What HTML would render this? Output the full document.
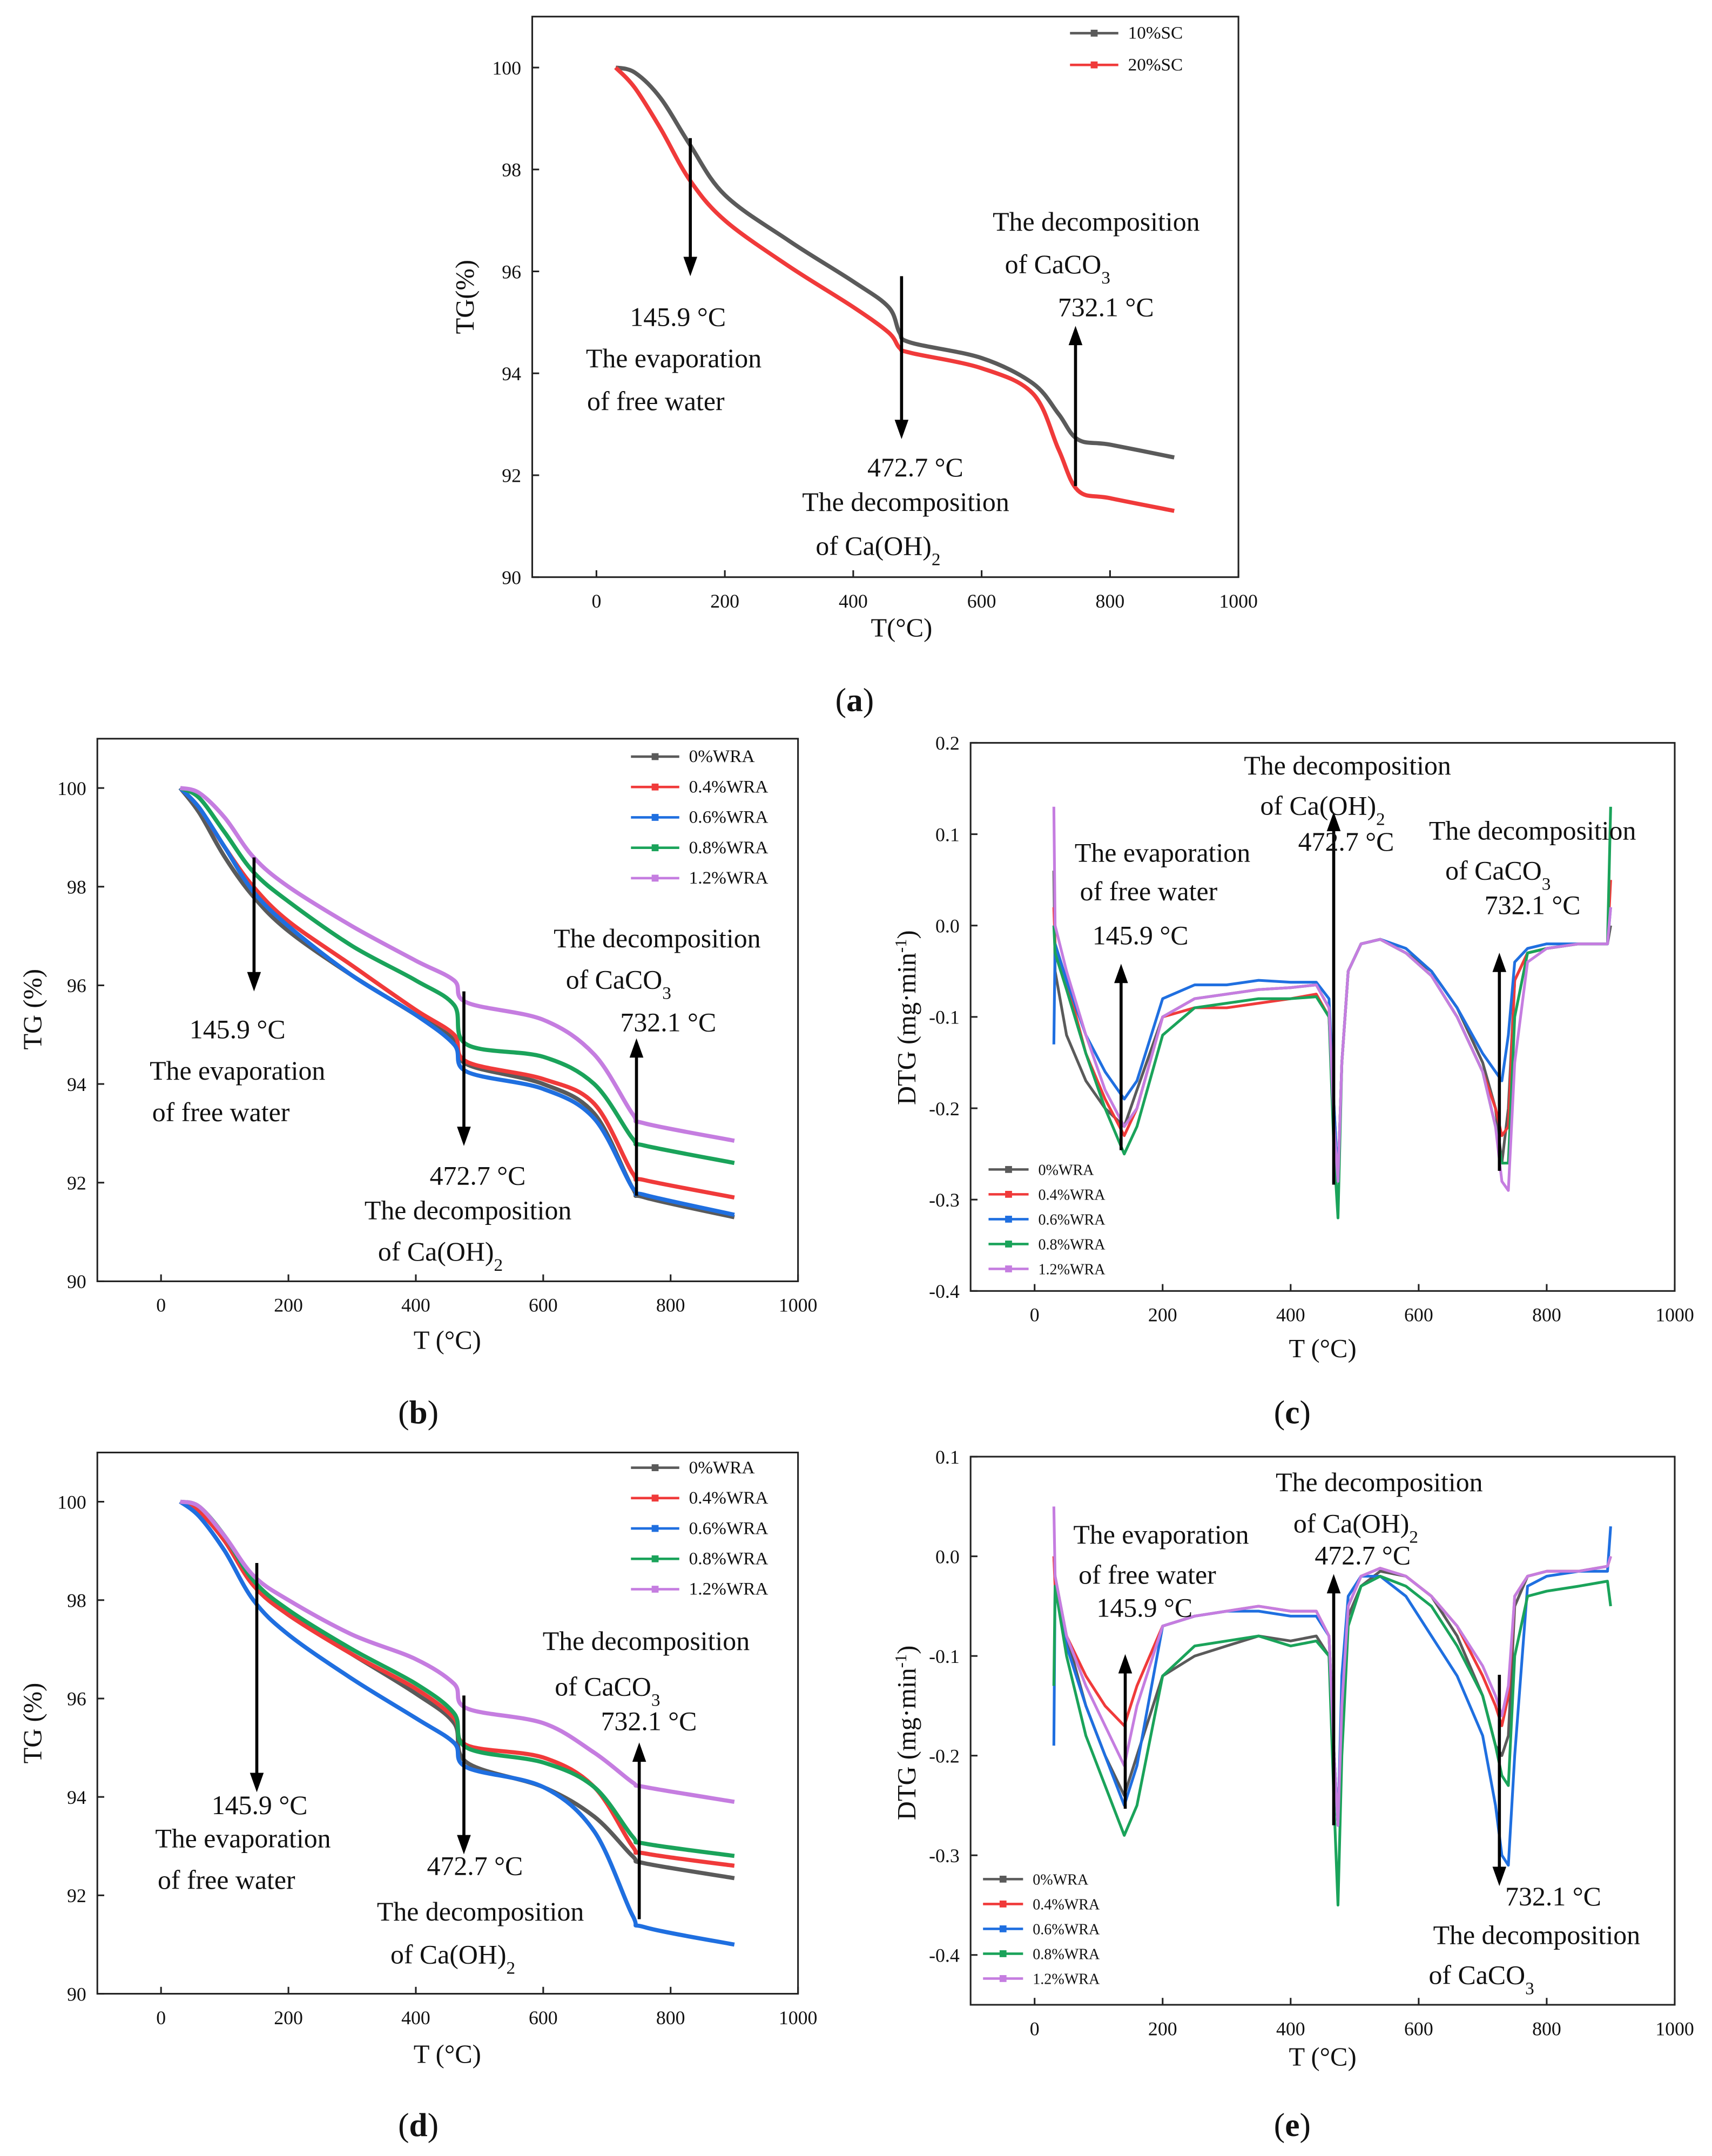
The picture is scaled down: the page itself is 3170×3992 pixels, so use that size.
<!DOCTYPE html>
<html><head><meta charset="utf-8"><style>
html,body{margin:0;padding:0;background:#fff}
svg{display:block}
text{font-family:"Liberation Serif",serif;fill:#111}
</style></head><body>
<svg id="fig" width="3170" height="3992" viewBox="0 0 1240 1561.5" xmlns="http://www.w3.org/2000/svg"></svg>
<script>
const colors = ['#5a5a5a','#f03a3a','#1f6fe0','#1aa35a','#c57de0'];
const legendWRA = ['0%WRA','0.4%WRA','0.6%WRA','0.8%WRA','1.2%WRA'];
const legendSC = ['10%SC','20%SC'];
const xTicks = [0,200,400,600,800,1000];
const tgTicks = [90,92,94,96,98,100];
const dtgTicksC = [-0.4,-0.3,-0.2,-0.1,0.0,0.1,0.2];
const dtgTicksE = [-0.4,-0.3,-0.2,-0.1,0.0,0.1];

const tA = [30,60,100,145,200,300,400,455,472,490,600,680,720,750,800,900];
const a10 = [100,99.9,99.4,98.5,97.5,96.6,95.8,95.3,94.8,94.6,94.3,93.8,93.2,92.7,92.6,92.35];
const a20 = [100,99.6,98.8,97.8,97.0,96.1,95.3,94.8,94.5,94.4,94.1,93.6,92.5,91.7,91.55,91.3];

const tB = [30,60,100,145,200,300,400,460,480,600,680,740,760,900];
const b0 = [100,99.5,98.6,97.8,97.1,96.2,95.4,94.9,94.4,94.0,93.4,91.9,91.7,91.3];
const b4 = [100,99.6,98.8,98.0,97.3,96.4,95.5,95.0,94.45,94.1,93.6,92.2,92.05,91.7];
const b6 = [100,99.6,98.8,97.9,97.2,96.2,95.4,94.8,94.25,93.9,93.3,91.9,91.75,91.35];
const b8 = [100,99.8,99.1,98.3,97.7,96.8,96.1,95.6,94.8,94.55,94.0,92.9,92.75,92.4];
const b12 = [100,99.9,99.4,98.6,98.0,97.2,96.5,96.1,95.65,95.3,94.6,93.4,93.2,92.85];

const tC = [30,32,50,80,110,140,160,200,250,300,350,400,440,460,468,474,480,490,510,540,580,620,660,700,720,730,740,750,770,800,850,895,900];
const c0 = [0.06,-0.05,-0.12,-0.17,-0.2,-0.22,-0.18,-0.1,-0.08,-0.075,-0.07,-0.068,-0.065,-0.09,-0.2,-0.28,-0.15,-0.05,-0.02,-0.015,-0.03,-0.05,-0.09,-0.15,-0.2,-0.26,-0.2,-0.06,-0.03,-0.025,-0.02,-0.02,0.0];
const c4 = [0.02,-0.02,-0.06,-0.14,-0.19,-0.23,-0.2,-0.1,-0.09,-0.09,-0.085,-0.08,-0.075,-0.1,-0.22,-0.28,-0.15,-0.05,-0.02,-0.015,-0.03,-0.055,-0.1,-0.16,-0.2,-0.23,-0.22,-0.06,-0.03,-0.025,-0.02,-0.02,0.05];
const c6 = [-0.13,-0.02,-0.06,-0.12,-0.16,-0.19,-0.17,-0.08,-0.065,-0.065,-0.06,-0.062,-0.062,-0.08,-0.2,-0.28,-0.15,-0.05,-0.02,-0.015,-0.025,-0.05,-0.09,-0.14,-0.16,-0.17,-0.12,-0.04,-0.025,-0.02,-0.02,-0.02,0.02];
const c8 = [0.0,-0.03,-0.07,-0.14,-0.2,-0.25,-0.22,-0.12,-0.09,-0.085,-0.08,-0.08,-0.078,-0.1,-0.25,-0.32,-0.15,-0.05,-0.02,-0.015,-0.03,-0.055,-0.1,-0.16,-0.22,-0.26,-0.26,-0.1,-0.03,-0.025,-0.02,-0.02,0.13];
const c12 = [0.13,0.0,-0.05,-0.12,-0.18,-0.22,-0.2,-0.1,-0.08,-0.075,-0.07,-0.068,-0.065,-0.09,-0.22,-0.28,-0.15,-0.05,-0.02,-0.015,-0.03,-0.055,-0.1,-0.16,-0.22,-0.28,-0.29,-0.15,-0.04,-0.025,-0.02,-0.02,0.02];

const tD = [30,60,100,145,200,300,400,460,480,600,680,740,760,900];
const d0 = [100,99.8,99.2,98.3,97.7,96.9,96.1,95.5,94.7,94.2,93.6,92.8,92.65,92.35];
const d4 = [100,99.8,99.2,98.3,97.7,96.9,96.2,95.6,95.05,94.8,94.2,93.0,92.85,92.6];
const d6 = [100,99.7,99.0,98.0,97.3,96.4,95.6,95.1,94.6,94.2,93.3,91.6,91.35,91.0];
const d8 = [100,99.9,99.3,98.4,97.8,97.0,96.3,95.7,95.0,94.7,94.2,93.2,93.05,92.8];
const d12 = [100,99.9,99.3,98.5,98.0,97.3,96.8,96.3,95.8,95.5,94.9,94.3,94.2,93.9];

const tE = [30,32,50,80,110,140,160,200,250,300,350,400,440,460,468,474,480,490,510,540,580,620,660,700,720,730,740,750,770,800,850,895,900];
const e0 = [0.0,-0.02,-0.08,-0.15,-0.2,-0.24,-0.2,-0.12,-0.1,-0.09,-0.08,-0.085,-0.08,-0.1,-0.2,-0.27,-0.15,-0.06,-0.03,-0.015,-0.02,-0.04,-0.08,-0.14,-0.19,-0.2,-0.18,-0.05,-0.02,-0.015,-0.015,-0.01,0.0];
const e4 = [0.0,-0.03,-0.08,-0.12,-0.15,-0.17,-0.13,-0.07,-0.06,-0.055,-0.05,-0.055,-0.055,-0.08,-0.2,-0.27,-0.15,-0.05,-0.02,-0.012,-0.02,-0.04,-0.07,-0.12,-0.15,-0.17,-0.14,-0.04,-0.02,-0.015,-0.015,-0.01,0.0];
const e6 = [-0.19,-0.03,-0.09,-0.15,-0.2,-0.25,-0.21,-0.07,-0.06,-0.055,-0.055,-0.06,-0.06,-0.08,-0.2,-0.27,-0.12,-0.04,-0.02,-0.02,-0.04,-0.08,-0.12,-0.18,-0.25,-0.3,-0.31,-0.2,-0.03,-0.02,-0.015,-0.015,0.03];
const e8 = [-0.13,-0.03,-0.1,-0.18,-0.23,-0.28,-0.25,-0.12,-0.09,-0.085,-0.08,-0.09,-0.085,-0.1,-0.25,-0.35,-0.2,-0.07,-0.03,-0.02,-0.03,-0.05,-0.09,-0.14,-0.19,-0.22,-0.23,-0.1,-0.04,-0.035,-0.03,-0.025,-0.05];
const e12 = [0.05,-0.02,-0.08,-0.13,-0.17,-0.21,-0.15,-0.07,-0.06,-0.055,-0.05,-0.055,-0.055,-0.08,-0.2,-0.27,-0.15,-0.05,-0.02,-0.012,-0.02,-0.04,-0.07,-0.11,-0.14,-0.16,-0.13,-0.04,-0.02,-0.015,-0.015,-0.01,0.0];

const NS='http://www.w3.org/2000/svg';
const svg=document.getElementById('fig');
function mk(tag,attrs,parent){const e=document.createElementNS(NS,tag);for(const k in attrs)e.setAttribute(k,attrs[k]);(parent||svg).appendChild(e);return e;}
function txt(s,x,y,size,parent,anchor,extra){const t=mk('text',Object.assign({x:x,y:y,'font-size':size,'text-anchor':anchor||'middle'},extra||{}),parent);t.innerHTML=s;return t;}
function smoothPath(pts){
  let d='M'+pts[0][0].toFixed(1)+','+pts[0][1].toFixed(1);
  for(let i=0;i<pts.length-1;i++){
    const p0=pts[Math.max(0,i-1)],p1=pts[i],p2=pts[i+1],p3=pts[Math.min(pts.length-1,i+2)];
    const c1=[p1[0]+(p2[0]-p0[0])/6,p1[1]+(p2[1]-p0[1])/6];
    const c2=[p2[0]-(p3[0]-p1[0])/6,p2[1]-(p3[1]-p1[1])/6];
    d+=`C${c1[0].toFixed(1)},${c1[1].toFixed(1)} ${c2[0].toFixed(1)},${c2[1].toFixed(1)} ${p2[0].toFixed(1)},${p2[1].toFixed(1)}`;
  }
  return d;
}

function panel(id,box,xr,yr,yt,yfmt,series,legend,legPos,legSize,sw,smooth){
  const g=mk('g',{});
  
  
  const [x0,y0,x1,y1]=box;
  const X=v=>x0+(v-xr[0])/(xr[1]-xr[0])*(x1-x0);
  const Y=v=>y1-(v-yr[0])/(yr[1]-yr[0])*(y1-y0);
  const frame=mk('rect',{x:x0,y:y0,width:x1-x0,height:y1-y0,fill:'none',stroke:'#222','stroke-width':1.2},g);
  
  
  xTicks.forEach(v=>{const px=X(v);mk('line',{x1:px,y1:y1,x2:px,y2:y1-5,stroke:'#222','stroke-width':1.2},g);
    const t=txt(String(v),px,y1+22,14,g);});
  yt.forEach(v=>{const py=Y(v);mk('line',{x1:x0,y1:py,x2:x0+5,y2:py,stroke:'#222','stroke-width':1.2},g);
    const t=txt(yfmt(v),x0-8,py+5,14,g,'end');});
  series.forEach((s,i)=>{
    const pts=s.t.map((tv,k)=>[X(tv),Y(s.v[k])]);
    const d=smooth?smoothPath(pts):pts.map((p,k)=>(k?'L':'M')+p[0].toFixed(1)+','+p[1].toFixed(1)).join('');
    const p=mk('path',{d:d,fill:'none',stroke:s.c,'stroke-width':sw,'stroke-linejoin':'round'},g);
    
    
  });
  legend.forEach((l,i)=>{
    const [lx,ly,dy,len]=legPos;const yy=ly+i*dy;
    const ln=mk('line',{x1:lx,y1:yy,x2:lx+len,y2:yy,stroke:series[i].c,'stroke-width':1.8},g);
    
    mk('rect',{x:lx+len/2-2.5,y:yy-2.5,width:5,height:5,fill:series[i].c},g);
    const t=txt(l,lx+len+7,yy+4,legSize,g,'start');
  });
  return g;
}
function arrow(x,ya,yb){
  const g=mk('g',{});
  const dir=yb>ya?1:-1;
  mk('line',{x1:x,y1:ya,x2:x,y2:yb-dir*12,stroke:'#000','stroke-width':2.2},g);
  mk('polygon',{points:`${x-5},${yb-dir*14} ${x+5},${yb-dir*14} ${x},${yb}`,fill:'#000'},g);
}
function note(s,x,y){const t=txt(s,x,y+6,19.5);}
function lab(s,x,y,size,rot){const t=txt(s,x,y,size||19,null,'middle',rot?{transform:`rotate(-90 ${x} ${y})`}:{});return t;}
const f0=v=>String(v), f1=v=>v.toFixed(1);
const S=(t,arrs)=>arrs.map((v,i)=>({t:t,v:v,c:colors[i]}));

// (a)
panel('a',[385.5,12,897,418],[-100,1000],[90,101],tgTicks,f0,[{t:tA,v:a10,c:colors[0]},{t:tA,v:a20,c:colors[1]}],legendSC,[775,24,23,35],13,3,true);
arrow(500,100,200);arrow(653,200,318);arrow(779,352,236);
note('145.9 °C',491,230);note('The evaporation',488,260);note('of free water',475,291);
note('472.7 °C',663,339);note('The decomposition',656,364);note('of Ca(OH)<tspan baseline-shift="sub" font-size="13">2</tspan>',636,396);
note('The decomposition',794,161);note('of CaCO<tspan baseline-shift="sub" font-size="13">3</tspan>',766,192);note('732.1 °C',801,223);
lab('T(°C)',653,461);lab('TG(%)',343,215,19,true);
lab('(<tspan font-weight="bold">a</tspan>)',619,515,24);

// (b)
panel('b',[70.5,535,578,928],[-100,1000],[90,101],tgTicks,f0,S(tB,[b0,b4,b6,b8,b12]),legendWRA,[457,548,22,35],13,3,true);
arrow(184,621,718);arrow(336,718,830);arrow(461,866,752);
note('145.9 °C',172,746);note('The evaporation',172,776);note('of free water',160,806);
note('472.7 °C',346,852);note('The decomposition',339,877);note('of Ca(OH)<tspan baseline-shift="sub" font-size="13">2</tspan>',319,907);
note('The decomposition',476,680);note('of CaCO<tspan baseline-shift="sub" font-size="13">3</tspan>',448,710);note('732.1 °C',484,741);
lab('T (°C)',324,977);lab('TG (%)',30,731,19,true);
lab('(<tspan font-weight="bold">b</tspan>)',303,1031,24);

// (c)
panel('c',[703,538,1213,935],[-100,1000],[-0.4,0.2],dtgTicksC,f1,S(tC,[c0,c4,c6,c8,c12]),legendWRA,[716,847,18,29],11,2,false);
arrow(812,833,698);arrow(966,858,588);arrow(1086,848,690);
note('The evaporation',842,618);note('of free water',832,646);note('145.9 °C',826,678);
note('The decomposition',976,555);note('of Ca(OH)<tspan baseline-shift="sub" font-size="13">2</tspan>',958,584);note('472.7 °C',975,610);
note('The decomposition',1110,602);note('of CaCO<tspan baseline-shift="sub" font-size="13">3</tspan>',1085,631);note('732.1 °C',1110,656);
lab('T (°C)',958,983);lab('DTG (mg·min<tspan baseline-shift="super" font-size="12">-1</tspan>)',663,737,19,true);
lab('(<tspan font-weight="bold">c</tspan>)',936,1031,24);

// (d)
panel('d',[70.5,1052,578,1444],[-100,1000],[90,101],tgTicks,f0,S(tD,[d0,d4,d6,d8,d12]),legendWRA,[457,1063,22,35],13,3,true);
arrow(186,1132,1298);arrow(336,1228,1343);arrow(463,1390,1262);
note('145.9 °C',188,1308);note('The evaporation',176,1332);note('of free water',164,1362);
note('472.7 °C',344,1352);note('The decomposition',348,1385);note('of Ca(OH)<tspan baseline-shift="sub" font-size="13">2</tspan>',328,1416);
note('The decomposition',468,1189);note('of CaCO<tspan baseline-shift="sub" font-size="13">3</tspan>',440,1222);note('732.1 °C',470,1247);
lab('T (°C)',324,1494);lab('TG (%)',30,1248,19,true);
lab('(<tspan font-weight="bold">d</tspan>)',303,1547,24);

// (e)
panel('e',[703,1055,1213,1452],[-100,1000],[-0.45,0.1],dtgTicksE,f1,S(tE,[e0,e4,e6,e8,e12]),legendWRA,[712,1361,18,29],11,2,false);
arrow(815,1310,1198);arrow(966,1322,1140);arrow(1086,1213,1366);
note('The evaporation',841,1112);note('of free water',831,1141);note('145.9 °C',829,1165);
note('The decomposition',999,1074);note('of Ca(OH)<tspan baseline-shift="sub" font-size="13">2</tspan>',982,1104);note('472.7 °C',987,1127);
note('732.1 °C',1125,1374);note('The decomposition',1113,1402);note('of CaCO<tspan baseline-shift="sub" font-size="13">3</tspan>',1073,1431);
lab('T (°C)',958,1496);lab('DTG (mg·min<tspan baseline-shift="super" font-size="12">-1</tspan>)',663,1255,19,true);
lab('(<tspan font-weight="bold">e</tspan>)',936,1547,24);
</script>
</body></html>
